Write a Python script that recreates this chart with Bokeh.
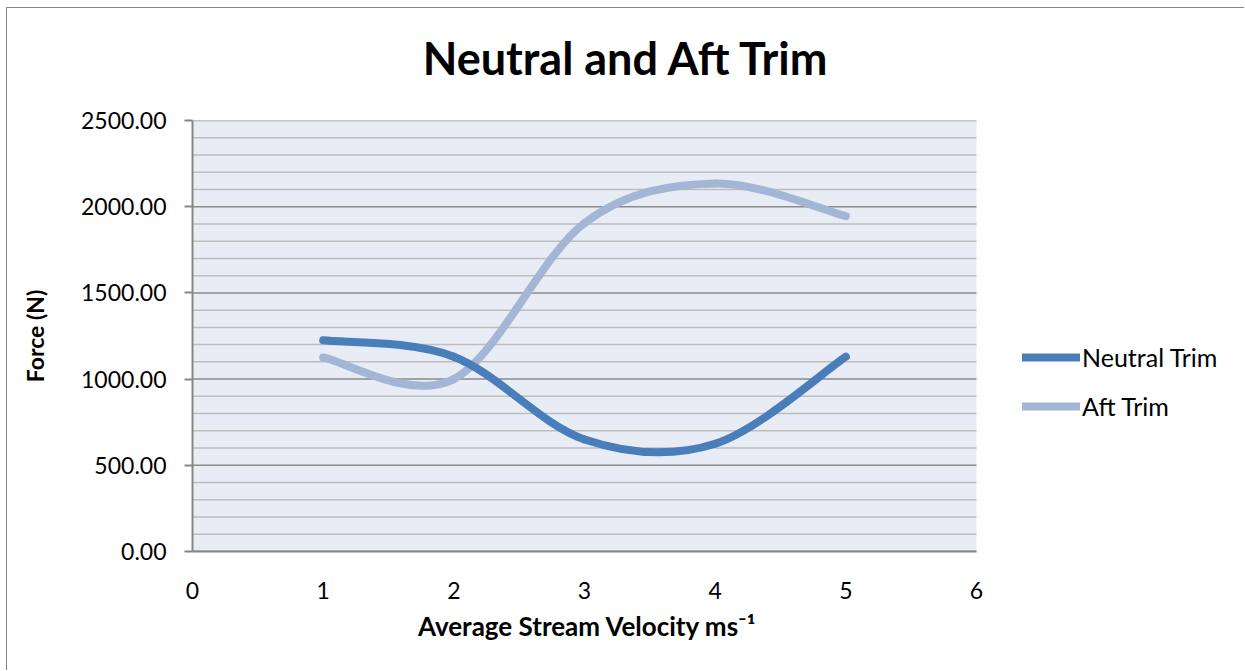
from bokeh.plotting import figure
from bokeh.models import (FixedTicker, Legend, LegendItem, Label, BoxAnnotation,
                          NumeralTickFormatter, Range1d, ColumnDataSource)
from bokeh.embed import file_html
from bokeh.resources import INLINE

# ---- data ----
velocity = [1, 2, 3, 4, 5]
neutral_trim = [1225, 1130, 650, 625, 1130]
aft_trim = [1125, 1000, 1905, 2135, 1945]
x_ticks = [0, 1, 2, 3, 4, 5, 6]
y_ticks = [0, 500, 1000, 1500, 2000, 2500]
y_minor = list(range(0, 2501, 100))

TITLE = "Neutral and Aft Trim"
X_LABEL = "Average Stream Velocity ms\u207b\u00b9"
Y_LABEL = "Force (N)"
FONT = "Lato"

# layout (pixels)
W, H = 1245, 671
ML, MT = 6, 7                      # outer chart border offset
PLOT_L, PLOT_R, PLOT_T, PLOT_B = 192, 976, 120, 551


def smooth_segments(xs, ys):
    """Bezier control points (Catmull-Rom style, as Excel's smoothed line)."""
    n = len(xs)
    d = dict(x0=[], y0=[], x1=[], y1=[], cx0=[], cy0=[], cx1=[], cy1=[])
    for i in range(n - 1):
        a = i - 1 if i > 0 else i
        b = i + 2 if i + 2 < n else i + 1
        d["x0"].append(xs[i]); d["y0"].append(ys[i])
        d["x1"].append(xs[i + 1]); d["y1"].append(ys[i + 1])
        d["cx0"].append(xs[i] + (xs[i + 1] - xs[a]) / 6)
        d["cy0"].append(ys[i] + (ys[i + 1] - ys[a]) / 6)
        d["cx1"].append(xs[i + 1] - (xs[b] - xs[i]) / 6)
        d["cy1"].append(ys[i + 1] - (ys[b] - ys[i]) / 6)
    return ColumnDataSource(d)


x_lo, x_hi = x_ticks[0], x_ticks[-1]
y_lo, y_hi = y_ticks[0], y_ticks[-1]
# frame runs to the right edge so that the legend (inside it) is not clipped
x_end = x_lo + (x_hi - x_lo) * (W - PLOT_L) / (PLOT_R - PLOT_L)

p = figure(width=W - ML - 1, height=H - MT - 1, output_backend="svg",
           toolbar_location=None,
           x_range=Range1d(x_lo, x_end), y_range=Range1d(y_lo, y_hi),
           min_border_left=PLOT_L - ML - 1, min_border_right=0,
           min_border_top=PLOT_T - MT - 1, min_border_bottom=H - PLOT_B,
           margin=(MT, 0, 0, ML),
           styles={"border-top": "1px solid #878787",
                   "border-left": "1px solid #878787"})

p.background_fill_color = "white"
p.border_fill_color = "white"
p.outline_line_color = None

# plot-area background
p.add_layout(BoxAnnotation(left=x_lo, right=x_hi, bottom=y_lo, top=y_hi,
                           fill_color="#E8ECF4", fill_alpha=1,
                           line_color=None, level="underlay"))

# horizontal gridlines limited to the plot area
p.xgrid.visible = False
p.ygrid.visible = False
minor_only = [v for v in y_minor if v not in y_ticks]
p.segment(x0=[x_lo] * len(minor_only), x1=[x_hi] * len(minor_only),
          y0=minor_only, y1=minor_only, line_color="#BDBDBD", line_width=1.5)
p.segment(x0=[x_lo] * len(y_ticks), x1=[x_hi] * len(y_ticks),
          y0=y_ticks, y1=y_ticks, line_color="#8A8A8A", line_width=1.5)

# title and x-axis title as labels in the top panel (not clipped by the frame)
title = Label(x=434, y=63,
              x_units="screen", y_units="screen", text=TITLE,
              text_font=FONT, text_font_size="45px", text_font_style="bold",
              text_color="black", text_align="center", text_baseline="alphabetic")
p.add_layout(title, "above")
xlab = Label(x=395, y=-559,
             x_units="screen", y_units="screen", text=X_LABEL,
             text_font=FONT, text_font_size="26px", text_font_style="bold",
             text_color="black", text_align="center", text_baseline="alphabetic")
p.add_layout(xlab, "above")

# axes
p.xaxis.ticker = FixedTicker(ticks=x_ticks)
p.xaxis.bounds = (x_lo, x_hi)
p.yaxis.ticker = FixedTicker(ticks=y_ticks, minor_ticks=y_minor)
p.yaxis.formatter = NumeralTickFormatter(format="0.00")
for ax in (p.xaxis[0], p.yaxis[0]):
    ax.axis_line_color = "#868686"
    ax.axis_line_width = 2
    ax.major_tick_line_color = "#868686"
    ax.major_tick_line_width = 2
    ax.major_tick_in = 0
    ax.minor_tick_in = 0
    ax.minor_tick_out = 0
    ax.major_label_text_font = FONT
    ax.major_label_text_font_size = "23px"
    ax.major_label_text_color = "black"
    ax.axis_label_text_font = FONT
    ax.axis_label_text_font_style = "bold"
    ax.axis_label_text_color = "black"

p.xaxis.major_tick_out = 0
p.xaxis.major_label_standoff = 30
p.yaxis.major_tick_out = 8
p.yaxis.major_label_standoff = 18
p.yaxis.axis_label = Y_LABEL
p.yaxis.axis_label_text_font_size = "23px"
p.yaxis.axis_label_standoff = 29

# series
src_n = smooth_segments(velocity, neutral_trim)
src_a = smooth_segments(velocity, aft_trim)
r_a = p.bezier(x0="x0", y0="y0", x1="x1", y1="y1", cx0="cx0", cy0="cy0",
               cx1="cx1", cy1="cy1", source=src_a, line_color="#A3B6D5",
               line_width=8, line_cap="round")
r_n = p.bezier(x0="x0", y0="y0", x1="x1", y1="y1", cx0="cx0", cy0="cy0",
               cx1="cx1", cy1="cy1", source=src_n, line_color="#4A7EBB",
               line_width=8, line_cap="round")

legend = Legend(items=[LegendItem(label="Neutral Trim", renderers=[r_n]),
                       LegendItem(label="Aft Trim", renderers=[r_a])],
                location=(1022 - PLOT_L, 130), orientation="vertical")
legend.background_fill_alpha = 0
legend.border_line_color = None
legend.padding = 0
legend.margin = 0
legend.spacing = 19
legend.glyph_width = 58
legend.glyph_height = 30
legend.label_height = 30
legend.label_standoff = 2
legend.label_text_font = FONT
legend.label_text_font_size = "25px"
legend.label_text_color = "black"
p.add_layout(legend, "center")

open("out.html", "w").write(file_html(p, INLINE))
